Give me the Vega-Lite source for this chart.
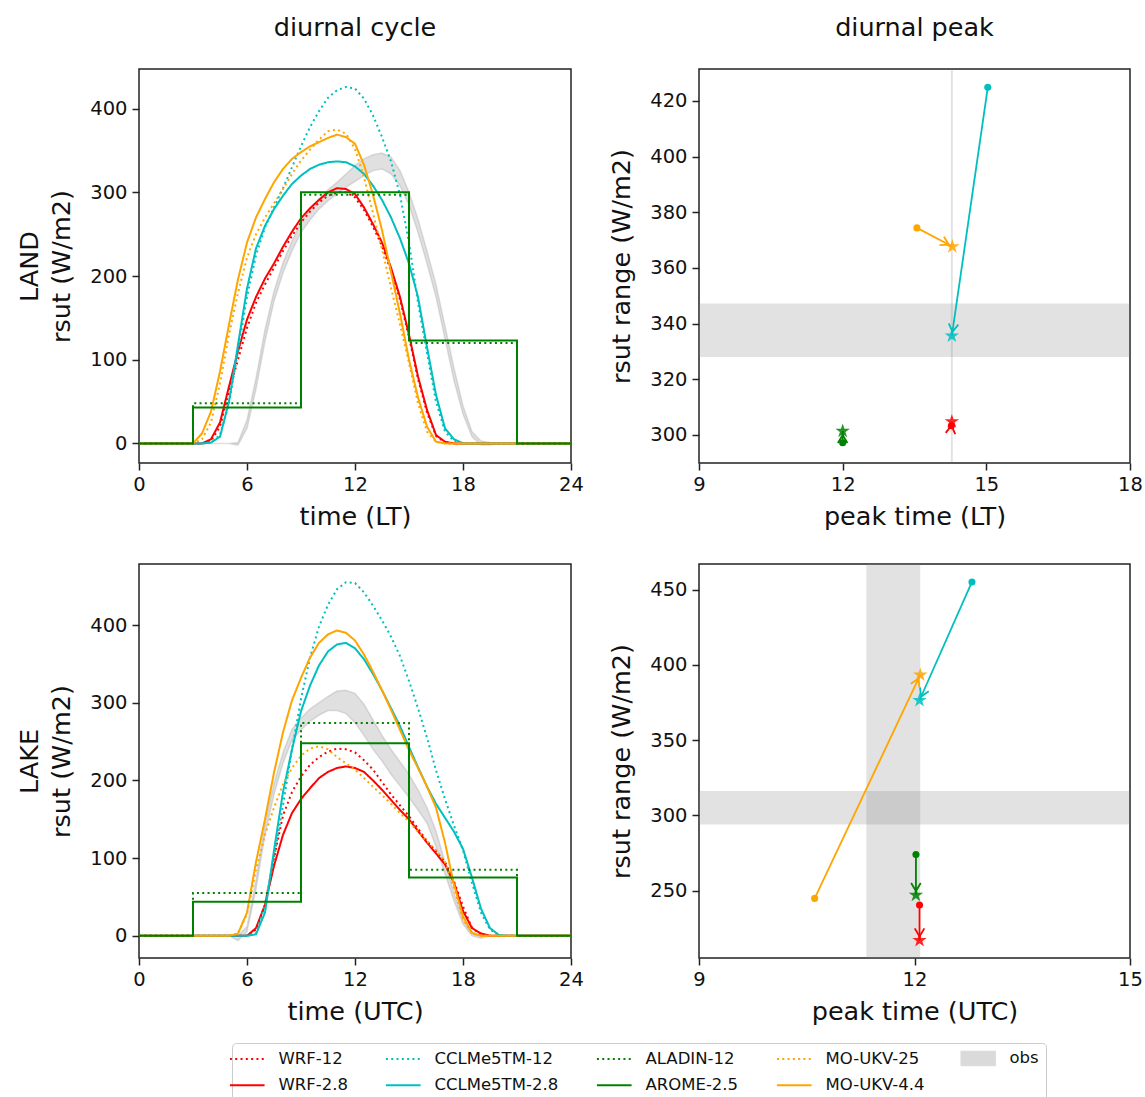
{
"$schema": "https://vega.github.io/schema/vega-lite/v6.json",
"padding": {"left": 17, "top": 14, "right": 5, "bottom": 5},
"spacing": 32,
"datasets": {
"cycle": [
{"r":"LAND","m":"WRF-12","t":0,"v":0},{"r":"LAND","m":"WRF-12","t":3.5,"v":0},{"r":"LAND","m":"WRF-12","t":4,"v":3},{"r":"LAND","m":"WRF-12","t":4.5,"v":20},{"r":"LAND","m":"WRF-12","t":5,"v":62},{"r":"LAND","m":"WRF-12","t":5.5,"v":100},{"r":"LAND","m":"WRF-12","t":6,"v":138},{"r":"LAND","m":"WRF-12","t":6.5,"v":168},{"r":"LAND","m":"WRF-12","t":7,"v":190},{"r":"LAND","m":"WRF-12","t":7.5,"v":210},{"r":"LAND","m":"WRF-12","t":8,"v":230},{"r":"LAND","m":"WRF-12","t":8.5,"v":248},{"r":"LAND","m":"WRF-12","t":9,"v":264},{"r":"LAND","m":"WRF-12","t":9.5,"v":277},{"r":"LAND","m":"WRF-12","t":10,"v":288},{"r":"LAND","m":"WRF-12","t":10.5,"v":296},{"r":"LAND","m":"WRF-12","t":11,"v":300},{"r":"LAND","m":"WRF-12","t":11.5,"v":300},{"r":"LAND","m":"WRF-12","t":12,"v":294},{"r":"LAND","m":"WRF-12","t":12.5,"v":279},{"r":"LAND","m":"WRF-12","t":13,"v":259},{"r":"LAND","m":"WRF-12","t":13.5,"v":236},{"r":"LAND","m":"WRF-12","t":14,"v":206},{"r":"LAND","m":"WRF-12","t":14.5,"v":172},{"r":"LAND","m":"WRF-12","t":15,"v":127},{"r":"LAND","m":"WRF-12","t":15.5,"v":77},{"r":"LAND","m":"WRF-12","t":16,"v":37},{"r":"LAND","m":"WRF-12","t":16.5,"v":9},{"r":"LAND","m":"WRF-12","t":17,"v":1},{"r":"LAND","m":"WRF-12","t":17.5,"v":0},{"r":"LAND","m":"WRF-12","t":24,"v":0},
{"r":"LAND","m":"WRF-2.8","t":0,"v":0},{"r":"LAND","m":"WRF-2.8","t":3.5,"v":0},{"r":"LAND","m":"WRF-2.8","t":4,"v":5},{"r":"LAND","m":"WRF-2.8","t":4.5,"v":25},{"r":"LAND","m":"WRF-2.8","t":5,"v":68},{"r":"LAND","m":"WRF-2.8","t":5.5,"v":110},{"r":"LAND","m":"WRF-2.8","t":6,"v":148},{"r":"LAND","m":"WRF-2.8","t":6.5,"v":175},{"r":"LAND","m":"WRF-2.8","t":7,"v":197},{"r":"LAND","m":"WRF-2.8","t":7.5,"v":215},{"r":"LAND","m":"WRF-2.8","t":8,"v":235},{"r":"LAND","m":"WRF-2.8","t":8.5,"v":253},{"r":"LAND","m":"WRF-2.8","t":9,"v":269},{"r":"LAND","m":"WRF-2.8","t":9.5,"v":281},{"r":"LAND","m":"WRF-2.8","t":10,"v":291},{"r":"LAND","m":"WRF-2.8","t":10.5,"v":300},{"r":"LAND","m":"WRF-2.8","t":11,"v":305},{"r":"LAND","m":"WRF-2.8","t":11.5,"v":304},{"r":"LAND","m":"WRF-2.8","t":12,"v":298},{"r":"LAND","m":"WRF-2.8","t":12.5,"v":282},{"r":"LAND","m":"WRF-2.8","t":13,"v":262},{"r":"LAND","m":"WRF-2.8","t":13.5,"v":240},{"r":"LAND","m":"WRF-2.8","t":14,"v":210},{"r":"LAND","m":"WRF-2.8","t":14.5,"v":175},{"r":"LAND","m":"WRF-2.8","t":15,"v":130},{"r":"LAND","m":"WRF-2.8","t":15.5,"v":80},{"r":"LAND","m":"WRF-2.8","t":16,"v":40},{"r":"LAND","m":"WRF-2.8","t":16.5,"v":10},{"r":"LAND","m":"WRF-2.8","t":17,"v":2},{"r":"LAND","m":"WRF-2.8","t":17.5,"v":0},{"r":"LAND","m":"WRF-2.8","t":24,"v":0},
{"r":"LAND","m":"CCLMe5TM-12","t":0,"v":0},{"r":"LAND","m":"CCLMe5TM-12","t":3.5,"v":0},{"r":"LAND","m":"CCLMe5TM-12","t":4,"v":1},{"r":"LAND","m":"CCLMe5TM-12","t":4.5,"v":10},{"r":"LAND","m":"CCLMe5TM-12","t":5,"v":48},{"r":"LAND","m":"CCLMe5TM-12","t":5.5,"v":110},{"r":"LAND","m":"CCLMe5TM-12","t":6,"v":175},{"r":"LAND","m":"CCLMe5TM-12","t":6.5,"v":225},{"r":"LAND","m":"CCLMe5TM-12","t":7,"v":258},{"r":"LAND","m":"CCLMe5TM-12","t":7.5,"v":282},{"r":"LAND","m":"CCLMe5TM-12","t":8,"v":305},{"r":"LAND","m":"CCLMe5TM-12","t":8.5,"v":330},{"r":"LAND","m":"CCLMe5TM-12","t":9,"v":355},{"r":"LAND","m":"CCLMe5TM-12","t":9.5,"v":378},{"r":"LAND","m":"CCLMe5TM-12","t":10,"v":397},{"r":"LAND","m":"CCLMe5TM-12","t":10.5,"v":413},{"r":"LAND","m":"CCLMe5TM-12","t":11,"v":422},{"r":"LAND","m":"CCLMe5TM-12","t":11.5,"v":426},{"r":"LAND","m":"CCLMe5TM-12","t":12,"v":424},{"r":"LAND","m":"CCLMe5TM-12","t":12.5,"v":412},{"r":"LAND","m":"CCLMe5TM-12","t":13,"v":392},{"r":"LAND","m":"CCLMe5TM-12","t":13.5,"v":366},{"r":"LAND","m":"CCLMe5TM-12","t":14,"v":337},{"r":"LAND","m":"CCLMe5TM-12","t":14.5,"v":297},{"r":"LAND","m":"CCLMe5TM-12","t":15,"v":240},{"r":"LAND","m":"CCLMe5TM-12","t":15.5,"v":168},{"r":"LAND","m":"CCLMe5TM-12","t":16,"v":108},{"r":"LAND","m":"CCLMe5TM-12","t":16.5,"v":50},{"r":"LAND","m":"CCLMe5TM-12","t":17,"v":14},{"r":"LAND","m":"CCLMe5TM-12","t":17.5,"v":3},{"r":"LAND","m":"CCLMe5TM-12","t":18,"v":0},{"r":"LAND","m":"CCLMe5TM-12","t":24,"v":0},
{"r":"LAND","m":"CCLMe5TM-2.8","t":0,"v":0},{"r":"LAND","m":"CCLMe5TM-2.8","t":3.5,"v":0},{"r":"LAND","m":"CCLMe5TM-2.8","t":4,"v":1},{"r":"LAND","m":"CCLMe5TM-2.8","t":4.5,"v":8},{"r":"LAND","m":"CCLMe5TM-2.8","t":5,"v":50},{"r":"LAND","m":"CCLMe5TM-2.8","t":5.5,"v":118},{"r":"LAND","m":"CCLMe5TM-2.8","t":6,"v":185},{"r":"LAND","m":"CCLMe5TM-2.8","t":6.5,"v":233},{"r":"LAND","m":"CCLMe5TM-2.8","t":7,"v":260},{"r":"LAND","m":"CCLMe5TM-2.8","t":7.5,"v":280},{"r":"LAND","m":"CCLMe5TM-2.8","t":8,"v":296},{"r":"LAND","m":"CCLMe5TM-2.8","t":8.5,"v":310},{"r":"LAND","m":"CCLMe5TM-2.8","t":9,"v":320},{"r":"LAND","m":"CCLMe5TM-2.8","t":9.5,"v":328},{"r":"LAND","m":"CCLMe5TM-2.8","t":10,"v":333},{"r":"LAND","m":"CCLMe5TM-2.8","t":10.5,"v":336},{"r":"LAND","m":"CCLMe5TM-2.8","t":11,"v":337},{"r":"LAND","m":"CCLMe5TM-2.8","t":11.5,"v":336},{"r":"LAND","m":"CCLMe5TM-2.8","t":12,"v":331},{"r":"LAND","m":"CCLMe5TM-2.8","t":12.5,"v":322},{"r":"LAND","m":"CCLMe5TM-2.8","t":13,"v":308},{"r":"LAND","m":"CCLMe5TM-2.8","t":13.5,"v":291},{"r":"LAND","m":"CCLMe5TM-2.8","t":14,"v":270},{"r":"LAND","m":"CCLMe5TM-2.8","t":14.5,"v":245},{"r":"LAND","m":"CCLMe5TM-2.8","t":15,"v":215},{"r":"LAND","m":"CCLMe5TM-2.8","t":15.5,"v":175},{"r":"LAND","m":"CCLMe5TM-2.8","t":16,"v":115},{"r":"LAND","m":"CCLMe5TM-2.8","t":16.5,"v":58},{"r":"LAND","m":"CCLMe5TM-2.8","t":17,"v":18},{"r":"LAND","m":"CCLMe5TM-2.8","t":17.5,"v":5},{"r":"LAND","m":"CCLMe5TM-2.8","t":18,"v":0},{"r":"LAND","m":"CCLMe5TM-2.8","t":24,"v":0},
{"r":"LAND","m":"MO-UKV-25","t":0,"v":0},{"r":"LAND","m":"MO-UKV-25","t":3,"v":0},{"r":"LAND","m":"MO-UKV-25","t":3.5,"v":5},{"r":"LAND","m":"MO-UKV-25","t":4,"v":25},{"r":"LAND","m":"MO-UKV-25","t":4.5,"v":72},{"r":"LAND","m":"MO-UKV-25","t":5,"v":130},{"r":"LAND","m":"MO-UKV-25","t":5.5,"v":180},{"r":"LAND","m":"MO-UKV-25","t":6,"v":222},{"r":"LAND","m":"MO-UKV-25","t":6.5,"v":250},{"r":"LAND","m":"MO-UKV-25","t":7,"v":270},{"r":"LAND","m":"MO-UKV-25","t":7.5,"v":287},{"r":"LAND","m":"MO-UKV-25","t":8,"v":304},{"r":"LAND","m":"MO-UKV-25","t":8.5,"v":322},{"r":"LAND","m":"MO-UKV-25","t":9,"v":338},{"r":"LAND","m":"MO-UKV-25","t":9.5,"v":351},{"r":"LAND","m":"MO-UKV-25","t":10,"v":363},{"r":"LAND","m":"MO-UKV-25","t":10.5,"v":373},{"r":"LAND","m":"MO-UKV-25","t":11,"v":375},{"r":"LAND","m":"MO-UKV-25","t":11.5,"v":370},{"r":"LAND","m":"MO-UKV-25","t":12,"v":352},{"r":"LAND","m":"MO-UKV-25","t":12.5,"v":318},{"r":"LAND","m":"MO-UKV-25","t":13,"v":275},{"r":"LAND","m":"MO-UKV-25","t":13.5,"v":232},{"r":"LAND","m":"MO-UKV-25","t":14,"v":186},{"r":"LAND","m":"MO-UKV-25","t":14.5,"v":142},{"r":"LAND","m":"MO-UKV-25","t":15,"v":96},{"r":"LAND","m":"MO-UKV-25","t":15.5,"v":48},{"r":"LAND","m":"MO-UKV-25","t":16,"v":14},{"r":"LAND","m":"MO-UKV-25","t":16.5,"v":2},{"r":"LAND","m":"MO-UKV-25","t":17,"v":0},{"r":"LAND","m":"MO-UKV-25","t":24,"v":0},
{"r":"LAND","m":"MO-UKV-4.4","t":0,"v":0},{"r":"LAND","m":"MO-UKV-4.4","t":3,"v":0},{"r":"LAND","m":"MO-UKV-4.4","t":3.5,"v":12},{"r":"LAND","m":"MO-UKV-4.4","t":4,"v":38},{"r":"LAND","m":"MO-UKV-4.4","t":4.5,"v":86},{"r":"LAND","m":"MO-UKV-4.4","t":5,"v":142},{"r":"LAND","m":"MO-UKV-4.4","t":5.5,"v":196},{"r":"LAND","m":"MO-UKV-4.4","t":6,"v":240},{"r":"LAND","m":"MO-UKV-4.4","t":6.5,"v":270},{"r":"LAND","m":"MO-UKV-4.4","t":7,"v":292},{"r":"LAND","m":"MO-UKV-4.4","t":7.5,"v":312},{"r":"LAND","m":"MO-UKV-4.4","t":8,"v":328},{"r":"LAND","m":"MO-UKV-4.4","t":8.5,"v":340},{"r":"LAND","m":"MO-UKV-4.4","t":9,"v":348},{"r":"LAND","m":"MO-UKV-4.4","t":9.5,"v":355},{"r":"LAND","m":"MO-UKV-4.4","t":10,"v":360},{"r":"LAND","m":"MO-UKV-4.4","t":10.5,"v":365},{"r":"LAND","m":"MO-UKV-4.4","t":11,"v":369},{"r":"LAND","m":"MO-UKV-4.4","t":11.5,"v":366},{"r":"LAND","m":"MO-UKV-4.4","t":12,"v":358},{"r":"LAND","m":"MO-UKV-4.4","t":12.5,"v":333},{"r":"LAND","m":"MO-UKV-4.4","t":13,"v":297},{"r":"LAND","m":"MO-UKV-4.4","t":13.5,"v":255},{"r":"LAND","m":"MO-UKV-4.4","t":14,"v":205},{"r":"LAND","m":"MO-UKV-4.4","t":14.5,"v":155},{"r":"LAND","m":"MO-UKV-4.4","t":15,"v":100},{"r":"LAND","m":"MO-UKV-4.4","t":15.5,"v":55},{"r":"LAND","m":"MO-UKV-4.4","t":16,"v":20},{"r":"LAND","m":"MO-UKV-4.4","t":16.5,"v":2},{"r":"LAND","m":"MO-UKV-4.4","t":17,"v":0},{"r":"LAND","m":"MO-UKV-4.4","t":24,"v":0},
{"r":"LAKE","m":"WRF-12","t":0,"v":0},{"r":"LAKE","m":"WRF-12","t":6,"v":0},{"r":"LAKE","m":"WRF-12","t":6.5,"v":8},{"r":"LAKE","m":"WRF-12","t":7,"v":40},{"r":"LAKE","m":"WRF-12","t":7.5,"v":100},{"r":"LAKE","m":"WRF-12","t":8,"v":155},{"r":"LAKE","m":"WRF-12","t":8.5,"v":185},{"r":"LAKE","m":"WRF-12","t":9,"v":205},{"r":"LAKE","m":"WRF-12","t":9.5,"v":220},{"r":"LAKE","m":"WRF-12","t":10,"v":230},{"r":"LAKE","m":"WRF-12","t":10.5,"v":237},{"r":"LAKE","m":"WRF-12","t":11,"v":241},{"r":"LAKE","m":"WRF-12","t":11.5,"v":240},{"r":"LAKE","m":"WRF-12","t":12,"v":236},{"r":"LAKE","m":"WRF-12","t":12.5,"v":226},{"r":"LAKE","m":"WRF-12","t":13,"v":214},{"r":"LAKE","m":"WRF-12","t":13.5,"v":198},{"r":"LAKE","m":"WRF-12","t":14,"v":182},{"r":"LAKE","m":"WRF-12","t":14.5,"v":168},{"r":"LAKE","m":"WRF-12","t":15,"v":154},{"r":"LAKE","m":"WRF-12","t":15.5,"v":138},{"r":"LAKE","m":"WRF-12","t":16,"v":122},{"r":"LAKE","m":"WRF-12","t":16.5,"v":109},{"r":"LAKE","m":"WRF-12","t":17,"v":95},{"r":"LAKE","m":"WRF-12","t":17.5,"v":70},{"r":"LAKE","m":"WRF-12","t":18,"v":38},{"r":"LAKE","m":"WRF-12","t":18.5,"v":10},{"r":"LAKE","m":"WRF-12","t":19,"v":2},{"r":"LAKE","m":"WRF-12","t":19.5,"v":0},{"r":"LAKE","m":"WRF-12","t":24,"v":0},
{"r":"LAKE","m":"WRF-2.8","t":0,"v":0},{"r":"LAKE","m":"WRF-2.8","t":6,"v":0},{"r":"LAKE","m":"WRF-2.8","t":6.5,"v":10},{"r":"LAKE","m":"WRF-2.8","t":7,"v":40},{"r":"LAKE","m":"WRF-2.8","t":7.5,"v":90},{"r":"LAKE","m":"WRF-2.8","t":8,"v":130},{"r":"LAKE","m":"WRF-2.8","t":8.5,"v":158},{"r":"LAKE","m":"WRF-2.8","t":9,"v":176},{"r":"LAKE","m":"WRF-2.8","t":9.5,"v":190},{"r":"LAKE","m":"WRF-2.8","t":10,"v":203},{"r":"LAKE","m":"WRF-2.8","t":10.5,"v":211},{"r":"LAKE","m":"WRF-2.8","t":11,"v":216},{"r":"LAKE","m":"WRF-2.8","t":11.5,"v":218},{"r":"LAKE","m":"WRF-2.8","t":12,"v":216},{"r":"LAKE","m":"WRF-2.8","t":12.5,"v":211},{"r":"LAKE","m":"WRF-2.8","t":13,"v":200},{"r":"LAKE","m":"WRF-2.8","t":13.5,"v":188},{"r":"LAKE","m":"WRF-2.8","t":14,"v":175},{"r":"LAKE","m":"WRF-2.8","t":14.5,"v":162},{"r":"LAKE","m":"WRF-2.8","t":15,"v":150},{"r":"LAKE","m":"WRF-2.8","t":15.5,"v":135},{"r":"LAKE","m":"WRF-2.8","t":16,"v":120},{"r":"LAKE","m":"WRF-2.8","t":16.5,"v":106},{"r":"LAKE","m":"WRF-2.8","t":17,"v":92},{"r":"LAKE","m":"WRF-2.8","t":17.5,"v":68},{"r":"LAKE","m":"WRF-2.8","t":18,"v":32},{"r":"LAKE","m":"WRF-2.8","t":18.5,"v":10},{"r":"LAKE","m":"WRF-2.8","t":19,"v":3},{"r":"LAKE","m":"WRF-2.8","t":19.5,"v":0},{"r":"LAKE","m":"WRF-2.8","t":24,"v":0},
{"r":"LAKE","m":"CCLMe5TM-12","t":0,"v":0},{"r":"LAKE","m":"CCLMe5TM-12","t":6,"v":0},{"r":"LAKE","m":"CCLMe5TM-12","t":6.5,"v":3},{"r":"LAKE","m":"CCLMe5TM-12","t":7,"v":40},{"r":"LAKE","m":"CCLMe5TM-12","t":7.5,"v":100},{"r":"LAKE","m":"CCLMe5TM-12","t":8,"v":168},{"r":"LAKE","m":"CCLMe5TM-12","t":8.5,"v":240},{"r":"LAKE","m":"CCLMe5TM-12","t":9,"v":305},{"r":"LAKE","m":"CCLMe5TM-12","t":9.5,"v":358},{"r":"LAKE","m":"CCLMe5TM-12","t":10,"v":398},{"r":"LAKE","m":"CCLMe5TM-12","t":10.5,"v":426},{"r":"LAKE","m":"CCLMe5TM-12","t":11,"v":446},{"r":"LAKE","m":"CCLMe5TM-12","t":11.5,"v":455},{"r":"LAKE","m":"CCLMe5TM-12","t":12,"v":454},{"r":"LAKE","m":"CCLMe5TM-12","t":12.5,"v":442},{"r":"LAKE","m":"CCLMe5TM-12","t":13,"v":425},{"r":"LAKE","m":"CCLMe5TM-12","t":13.5,"v":406},{"r":"LAKE","m":"CCLMe5TM-12","t":14,"v":385},{"r":"LAKE","m":"CCLMe5TM-12","t":14.5,"v":360},{"r":"LAKE","m":"CCLMe5TM-12","t":15,"v":328},{"r":"LAKE","m":"CCLMe5TM-12","t":15.5,"v":293},{"r":"LAKE","m":"CCLMe5TM-12","t":16,"v":255},{"r":"LAKE","m":"CCLMe5TM-12","t":16.5,"v":213},{"r":"LAKE","m":"CCLMe5TM-12","t":17,"v":176},{"r":"LAKE","m":"CCLMe5TM-12","t":17.5,"v":142},{"r":"LAKE","m":"CCLMe5TM-12","t":18,"v":110},{"r":"LAKE","m":"CCLMe5TM-12","t":18.5,"v":68},{"r":"LAKE","m":"CCLMe5TM-12","t":19,"v":30},{"r":"LAKE","m":"CCLMe5TM-12","t":19.5,"v":8},{"r":"LAKE","m":"CCLMe5TM-12","t":20,"v":1},{"r":"LAKE","m":"CCLMe5TM-12","t":20.5,"v":0},{"r":"LAKE","m":"CCLMe5TM-12","t":24,"v":0},
{"r":"LAKE","m":"CCLMe5TM-2.8","t":0,"v":0},{"r":"LAKE","m":"CCLMe5TM-2.8","t":6,"v":0},{"r":"LAKE","m":"CCLMe5TM-2.8","t":6.5,"v":2},{"r":"LAKE","m":"CCLMe5TM-2.8","t":7,"v":30},{"r":"LAKE","m":"CCLMe5TM-2.8","t":7.5,"v":110},{"r":"LAKE","m":"CCLMe5TM-2.8","t":8,"v":185},{"r":"LAKE","m":"CCLMe5TM-2.8","t":8.5,"v":240},{"r":"LAKE","m":"CCLMe5TM-2.8","t":9,"v":289},{"r":"LAKE","m":"CCLMe5TM-2.8","t":9.5,"v":322},{"r":"LAKE","m":"CCLMe5TM-2.8","t":10,"v":348},{"r":"LAKE","m":"CCLMe5TM-2.8","t":10.5,"v":366},{"r":"LAKE","m":"CCLMe5TM-2.8","t":11,"v":375},{"r":"LAKE","m":"CCLMe5TM-2.8","t":11.5,"v":377},{"r":"LAKE","m":"CCLMe5TM-2.8","t":12,"v":370},{"r":"LAKE","m":"CCLMe5TM-2.8","t":12.5,"v":356},{"r":"LAKE","m":"CCLMe5TM-2.8","t":13,"v":337},{"r":"LAKE","m":"CCLMe5TM-2.8","t":13.5,"v":316},{"r":"LAKE","m":"CCLMe5TM-2.8","t":14,"v":293},{"r":"LAKE","m":"CCLMe5TM-2.8","t":14.5,"v":270},{"r":"LAKE","m":"CCLMe5TM-2.8","t":15,"v":243},{"r":"LAKE","m":"CCLMe5TM-2.8","t":15.5,"v":217},{"r":"LAKE","m":"CCLMe5TM-2.8","t":16,"v":192},{"r":"LAKE","m":"CCLMe5TM-2.8","t":16.5,"v":170},{"r":"LAKE","m":"CCLMe5TM-2.8","t":17,"v":152},{"r":"LAKE","m":"CCLMe5TM-2.8","t":17.5,"v":134},{"r":"LAKE","m":"CCLMe5TM-2.8","t":18,"v":112},{"r":"LAKE","m":"CCLMe5TM-2.8","t":18.5,"v":75},{"r":"LAKE","m":"CCLMe5TM-2.8","t":19,"v":35},{"r":"LAKE","m":"CCLMe5TM-2.8","t":19.5,"v":10},{"r":"LAKE","m":"CCLMe5TM-2.8","t":20,"v":1},{"r":"LAKE","m":"CCLMe5TM-2.8","t":20.5,"v":0},{"r":"LAKE","m":"CCLMe5TM-2.8","t":24,"v":0},
{"r":"LAKE","m":"MO-UKV-25","t":0,"v":0},{"r":"LAKE","m":"MO-UKV-25","t":5,"v":0},{"r":"LAKE","m":"MO-UKV-25","t":5.5,"v":3},{"r":"LAKE","m":"MO-UKV-25","t":6,"v":28},{"r":"LAKE","m":"MO-UKV-25","t":6.5,"v":85},{"r":"LAKE","m":"MO-UKV-25","t":7,"v":130},{"r":"LAKE","m":"MO-UKV-25","t":7.5,"v":165},{"r":"LAKE","m":"MO-UKV-25","t":8,"v":195},{"r":"LAKE","m":"MO-UKV-25","t":8.5,"v":216},{"r":"LAKE","m":"MO-UKV-25","t":9,"v":232},{"r":"LAKE","m":"MO-UKV-25","t":9.5,"v":241},{"r":"LAKE","m":"MO-UKV-25","t":10,"v":244},{"r":"LAKE","m":"MO-UKV-25","t":10.5,"v":240},{"r":"LAKE","m":"MO-UKV-25","t":11,"v":230},{"r":"LAKE","m":"MO-UKV-25","t":11.5,"v":222},{"r":"LAKE","m":"MO-UKV-25","t":12,"v":214},{"r":"LAKE","m":"MO-UKV-25","t":12.5,"v":203},{"r":"LAKE","m":"MO-UKV-25","t":13,"v":192},{"r":"LAKE","m":"MO-UKV-25","t":13.5,"v":181},{"r":"LAKE","m":"MO-UKV-25","t":14,"v":170},{"r":"LAKE","m":"MO-UKV-25","t":14.5,"v":158},{"r":"LAKE","m":"MO-UKV-25","t":15,"v":147},{"r":"LAKE","m":"MO-UKV-25","t":15.5,"v":134},{"r":"LAKE","m":"MO-UKV-25","t":16,"v":122},{"r":"LAKE","m":"MO-UKV-25","t":16.5,"v":110},{"r":"LAKE","m":"MO-UKV-25","t":17,"v":95},{"r":"LAKE","m":"MO-UKV-25","t":17.5,"v":62},{"r":"LAKE","m":"MO-UKV-25","t":18,"v":22},{"r":"LAKE","m":"MO-UKV-25","t":18.5,"v":3},{"r":"LAKE","m":"MO-UKV-25","t":19,"v":0},{"r":"LAKE","m":"MO-UKV-25","t":24,"v":0},
{"r":"LAKE","m":"MO-UKV-4.4","t":0,"v":0},{"r":"LAKE","m":"MO-UKV-4.4","t":5,"v":0},{"r":"LAKE","m":"MO-UKV-4.4","t":5.5,"v":3},{"r":"LAKE","m":"MO-UKV-4.4","t":6,"v":30},{"r":"LAKE","m":"MO-UKV-4.4","t":6.5,"v":95},{"r":"LAKE","m":"MO-UKV-4.4","t":7,"v":150},{"r":"LAKE","m":"MO-UKV-4.4","t":7.5,"v":210},{"r":"LAKE","m":"MO-UKV-4.4","t":8,"v":262},{"r":"LAKE","m":"MO-UKV-4.4","t":8.5,"v":303},{"r":"LAKE","m":"MO-UKV-4.4","t":9,"v":332},{"r":"LAKE","m":"MO-UKV-4.4","t":9.5,"v":358},{"r":"LAKE","m":"MO-UKV-4.4","t":10,"v":377},{"r":"LAKE","m":"MO-UKV-4.4","t":10.5,"v":388},{"r":"LAKE","m":"MO-UKV-4.4","t":11,"v":393},{"r":"LAKE","m":"MO-UKV-4.4","t":11.5,"v":390},{"r":"LAKE","m":"MO-UKV-4.4","t":12,"v":380},{"r":"LAKE","m":"MO-UKV-4.4","t":12.5,"v":362},{"r":"LAKE","m":"MO-UKV-4.4","t":13,"v":340},{"r":"LAKE","m":"MO-UKV-4.4","t":13.5,"v":316},{"r":"LAKE","m":"MO-UKV-4.4","t":14,"v":291},{"r":"LAKE","m":"MO-UKV-4.4","t":14.5,"v":265},{"r":"LAKE","m":"MO-UKV-4.4","t":15,"v":239},{"r":"LAKE","m":"MO-UKV-4.4","t":15.5,"v":216},{"r":"LAKE","m":"MO-UKV-4.4","t":16,"v":192},{"r":"LAKE","m":"MO-UKV-4.4","t":16.5,"v":165},{"r":"LAKE","m":"MO-UKV-4.4","t":17,"v":120},{"r":"LAKE","m":"MO-UKV-4.4","t":17.5,"v":66},{"r":"LAKE","m":"MO-UKV-4.4","t":18,"v":25},{"r":"LAKE","m":"MO-UKV-4.4","t":18.5,"v":4},{"r":"LAKE","m":"MO-UKV-4.4","t":19,"v":0},{"r":"LAKE","m":"MO-UKV-4.4","t":24,"v":0}
],
"steps": [
{"r":"LAND","m":"ALADIN-12","t":0,"v":0},{"r":"LAND","m":"ALADIN-12","t":3,"v":48},{"r":"LAND","m":"ALADIN-12","t":9,"v":297},{"r":"LAND","m":"ALADIN-12","t":15,"v":120},{"r":"LAND","m":"ALADIN-12","t":21,"v":0},{"r":"LAND","m":"ALADIN-12","t":24,"v":0},
{"r":"LAND","m":"AROME-2.5","t":0,"v":0},{"r":"LAND","m":"AROME-2.5","t":3,"v":43},{"r":"LAND","m":"AROME-2.5","t":9,"v":300},{"r":"LAND","m":"AROME-2.5","t":15,"v":123},{"r":"LAND","m":"AROME-2.5","t":21,"v":0},{"r":"LAND","m":"AROME-2.5","t":24,"v":0},
{"r":"LAKE","m":"ALADIN-12","t":0,"v":0},{"r":"LAKE","m":"ALADIN-12","t":3,"v":55},{"r":"LAKE","m":"ALADIN-12","t":9,"v":274},{"r":"LAKE","m":"ALADIN-12","t":15,"v":85},{"r":"LAKE","m":"ALADIN-12","t":21,"v":0},{"r":"LAKE","m":"ALADIN-12","t":24,"v":0},
{"r":"LAKE","m":"AROME-2.5","t":0,"v":0},{"r":"LAKE","m":"AROME-2.5","t":3,"v":44},{"r":"LAKE","m":"AROME-2.5","t":9,"v":248},{"r":"LAKE","m":"AROME-2.5","t":15,"v":75},{"r":"LAKE","m":"AROME-2.5","t":21,"v":0},{"r":"LAKE","m":"AROME-2.5","t":24,"v":0}
],
"obs": [
{"r":"LAND","t":0,"lo":0,"hi":0},{"r":"LAND","t":5,"lo":0,"hi":0},{"r":"LAND","t":5.5,"lo":-2,"hi":1},{"r":"LAND","t":6,"lo":18,"hi":28},{"r":"LAND","t":6.5,"lo":65,"hi":78},{"r":"LAND","t":7,"lo":122,"hi":136},{"r":"LAND","t":7.5,"lo":170,"hi":182},{"r":"LAND","t":8,"lo":204,"hi":216},{"r":"LAND","t":8.5,"lo":230,"hi":242},{"r":"LAND","t":9,"lo":252,"hi":264},{"r":"LAND","t":9.5,"lo":267,"hi":280},{"r":"LAND","t":10,"lo":280,"hi":292},{"r":"LAND","t":10.5,"lo":290,"hi":303},{"r":"LAND","t":11,"lo":298,"hi":312},{"r":"LAND","t":11.5,"lo":306,"hi":322},{"r":"LAND","t":12,"lo":313,"hi":332},{"r":"LAND","t":12.5,"lo":320,"hi":340},{"r":"LAND","t":13,"lo":326,"hi":345},{"r":"LAND","t":13.5,"lo":328,"hi":347},{"r":"LAND","t":14,"lo":322,"hi":342},{"r":"LAND","t":14.5,"lo":308,"hi":326},{"r":"LAND","t":15,"lo":285,"hi":300},{"r":"LAND","t":15.5,"lo":252,"hi":268},{"r":"LAND","t":16,"lo":215,"hi":230},{"r":"LAND","t":16.5,"lo":175,"hi":190},{"r":"LAND","t":17,"lo":125,"hi":140},{"r":"LAND","t":17.5,"lo":75,"hi":90},{"r":"LAND","t":18,"lo":35,"hi":45},{"r":"LAND","t":18.5,"lo":8,"hi":14},{"r":"LAND","t":19,"lo":-2,"hi":3},{"r":"LAND","t":19.5,"lo":-2,"hi":1},{"r":"LAND","t":20,"lo":0,"hi":0},{"r":"LAND","t":24,"lo":0,"hi":0},
{"r":"LAKE","t":0,"lo":0,"hi":0},{"r":"LAKE","t":5,"lo":0,"hi":0},{"r":"LAKE","t":5.5,"lo":-6,"hi":0},{"r":"LAKE","t":6,"lo":5,"hi":12},{"r":"LAKE","t":6.5,"lo":60,"hi":72},{"r":"LAKE","t":7,"lo":130,"hi":145},{"r":"LAKE","t":7.5,"lo":182,"hi":196},{"r":"LAKE","t":8,"lo":222,"hi":236},{"r":"LAKE","t":8.5,"lo":252,"hi":266},{"r":"LAKE","t":9,"lo":265,"hi":280},{"r":"LAKE","t":9.5,"lo":276,"hi":292},{"r":"LAKE","t":10,"lo":284,"hi":300},{"r":"LAKE","t":10.5,"lo":290,"hi":308},{"r":"LAKE","t":11,"lo":290,"hi":315},{"r":"LAKE","t":11.5,"lo":286,"hi":316},{"r":"LAKE","t":12,"lo":274,"hi":312},{"r":"LAKE","t":12.5,"lo":258,"hi":298},{"r":"LAKE","t":13,"lo":240,"hi":278},{"r":"LAKE","t":13.5,"lo":225,"hi":258},{"r":"LAKE","t":14,"lo":208,"hi":240},{"r":"LAKE","t":14.5,"lo":193,"hi":224},{"r":"LAKE","t":15,"lo":178,"hi":208},{"r":"LAKE","t":15.5,"lo":162,"hi":188},{"r":"LAKE","t":16,"lo":145,"hi":165},{"r":"LAKE","t":16.5,"lo":115,"hi":135},{"r":"LAKE","t":17,"lo":80,"hi":95},{"r":"LAKE","t":17.5,"lo":45,"hi":55},{"r":"LAKE","t":18,"lo":15,"hi":20},{"r":"LAKE","t":18.5,"lo":0,"hi":3},{"r":"LAKE","t":19,"lo":-3,"hi":0},{"r":"LAKE","t":19.5,"lo":0,"hi":0},{"r":"LAKE","t":24,"lo":0,"hi":0}
],
"peaks": [
{"r":"LAND","m12":"WRF-12","mhi":"WRF-2.8","t12":14.27,"r12":303.3,"thi":14.28,"rhi":304.8},
{"r":"LAND","m12":"CCLMe5TM-12","mhi":"CCLMe5TM-2.8","t12":15.03,"r12":424.9,"thi":14.28,"rhi":335.6},
{"r":"LAND","m12":"ALADIN-12","mhi":"AROME-2.5","t12":12.0,"r12":297.2,"thi":12.0,"rhi":301.4},
{"r":"LAND","m12":"MO-UKV-25","mhi":"MO-UKV-4.4","t12":13.55,"r12":374.4,"thi":14.29,"rhi":367.7},
{"r":"LAKE","m12":"WRF-12","mhi":"WRF-2.8","t12":12.07,"r12":240.5,"thi":12.07,"rhi":217},
{"r":"LAKE","m12":"CCLMe5TM-12","mhi":"CCLMe5TM-2.8","t12":12.8,"r12":455.1,"thi":12.07,"rhi":376.5},
{"r":"LAKE","m12":"ALADIN-12","mhi":"AROME-2.5","t12":12.02,"r12":274.1,"thi":12.02,"rhi":247.1},
{"r":"LAKE","m12":"MO-UKV-25","mhi":"MO-UKV-4.4","t12":10.61,"r12":244.9,"thi":12.08,"rhi":393.3}
],
"obsPeak": [
{"r":"LAND","t1":14.26,"t2":14.3,"v1":328,"v2":347.2},
{"r":"LAKE","t1":11.33,"t2":12.08,"v1":294,"v2":316.2}
]
},
"vconcat": [
{"spacing": 24, "hconcat": [
{
"width": 432, "height": 394,
"title": {"text": "diurnal cycle"},
"layer": [
{"data": {"name": "obs"}, "transform": [{"filter": "datum.r === 'LAND'"}],
 "mark": {"type": "area", "fill": "#999999", "fillOpacity": 0.3, "stroke": "#999999", "strokeOpacity": 0.3, "strokeWidth": 1.5},
 "encoding": {
  "x": {"field": "t", "type": "quantitative", "scale": {"domain": [0, 24], "nice": false, "zero": false}, "axis": {"values": [0, 6, 12, 18, 24], "format": "d", "title": "time (LT)", "labelFlush": false}},
  "y": {"field": "lo", "type": "quantitative", "scale": {"domain": [-23.4, 447.4], "nice": false, "zero": false}, "axis": {"values": [0, 100, 200, 300, 400], "format": "d", "title": ["LAND", "rsut (W/m2)"], "titlePadding": 15}},
  "y2": {"field": "hi"}}},
{"data": {"name": "cycle"}, "transform": [{"filter": "datum.r === 'LAND'"}],
 "mark": {"type": "line", "strokeWidth": 2},
 "encoding": {
  "x": {"field": "t", "type": "quantitative"},
  "y": {"field": "v", "type": "quantitative"},
  "color": {"field": "m", "type": "nominal",
   "scale": {"domain": ["WRF-12","CCLMe5TM-12","ALADIN-12","MO-UKV-25","obs","WRF-2.8","CCLMe5TM-2.8","AROME-2.5","MO-UKV-4.4"], "range": ["#ff0000","#00bfbf","#008000","#ffa500","#dadada","#ff0000","#00bfbf","#008000","#ffa500"]},
   "legend": {"title": null, "orient": "none", "legendX": 93, "legendY": 974, "columns": 5, "direction": "horizontal", "symbolType": "stroke", "symbolSize": 1200, "symbolStrokeWidth": 2, "labelFontSize": 16.5, "labelOffset": 23, "labelLimit": 400, "columnPadding": 33, "rowPadding": 9, "padding": 7, "strokeColor": "#cccccc", "fillColor": "#ffffff", "cornerRadius": 4,
    "encode": {"symbols": {"update": {"shape": {"signal": "datum.value === 'obs' ? 'M-1,-0.42H1V0.42H-1Z' : 'stroke'"}, "fill": {"signal": "datum.value === 'obs' ? '#dadada' : 'transparent'"}, "strokeWidth": {"signal": "datum.value === 'obs' ? 1 : 2"}}}}}},
  "strokeDash": {"field": "m", "type": "nominal",
   "scale": {"domain": ["WRF-12","CCLMe5TM-12","ALADIN-12","MO-UKV-25","obs","WRF-2.8","CCLMe5TM-2.8","AROME-2.5","MO-UKV-4.4"], "range": [[2,3.3],[2,3.3],[2,3.3],[2,3.3],[1,0],[1,0],[1,0],[1,0],[1,0]]},
   "legend": {"title": null, "orient": "none", "legendX": 93, "legendY": 974, "columns": 5, "direction": "horizontal", "symbolType": "stroke", "symbolSize": 1200, "symbolStrokeWidth": 2, "labelFontSize": 16.5, "labelOffset": 23, "labelLimit": 400, "columnPadding": 33, "rowPadding": 9, "padding": 7, "strokeColor": "#cccccc", "fillColor": "#ffffff", "cornerRadius": 4}}}},
{"data": {"name": "steps"}, "transform": [{"filter": "datum.r === 'LAND'"}],
 "mark": {"type": "line", "strokeWidth": 2, "interpolate": "step-after"},
 "encoding": {
  "x": {"field": "t", "type": "quantitative"},
  "y": {"field": "v", "type": "quantitative"},
  "color": {"field": "m", "type": "nominal", "legend": null},
  "strokeDash": {"field": "m", "type": "nominal", "legend": null}}}
]
},
{
"width": 431, "height": 394,
"title": {"text": "diurnal peak"},
"layer": [
{"data": {"name": "obsPeak"}, "transform": [{"filter": "datum.r === 'LAND'"}],
 "mark": {"type": "rect", "fill": "#808080", "opacity": 0.23},
 "encoding": {
  "x": {"field": "t1", "type": "quantitative", "scale": {"domain": [9, 18], "nice": false, "zero": false}, "axis": {"values": [9, 12, 15, 18], "format": "d", "title": "peak time (LT)", "labelFlush": false}},
  "x2": {"field": "t2"},
  "y": {"datum": 289.9, "type": "quantitative", "scale": {"domain": [289.9, 431.5], "nice": false, "zero": false}, "axis": {"values": [300, 320, 340, 360, 380, 400, 420], "format": "d", "title": "rsut range (W/m2)", "titlePadding": 15}},
  "y2": {"datum": 431.5}}},
{"data": {"name": "obsPeak"}, "transform": [{"filter": "datum.r === 'LAND'"}],
 "mark": {"type": "rect", "fill": "#808080", "opacity": 0.23},
 "encoding": {
  "x": {"datum": 9, "type": "quantitative"},
  "x2": {"datum": 18},
  "y": {"field": "v1", "type": "quantitative"},
  "y2": {"field": "v2"}}},
{"data": {"name": "peaks"}, "transform": [{"filter": "datum.r === 'LAND'"}],
 "mark": {"type": "rule", "strokeWidth": 1.8},
 "encoding": {"x": {"field": "t12", "type": "quantitative"}, "y": {"field": "r12", "type": "quantitative"}, "x2": {"field": "thi"}, "y2": {"field": "rhi"}, "color": {"field": "m12", "type": "nominal", "legend": null}}},
{"data": {"name": "peaks"}, "transform": [{"filter": "datum.r === 'LAND'"}],
 "mark": {"type": "point", "shape": "circle", "filled": true, "size": 50, "opacity": 1},
 "encoding": {"x": {"field": "t12", "type": "quantitative"}, "y": {"field": "r12", "type": "quantitative"}, "color": {"field": "m12", "type": "nominal", "legend": null}}},
{"data": {"name": "peaks"}, "transform": [{"filter": "datum.r === 'LAND'"}],
 "mark": {"type": "point", "shape": "M0,-1L0.2245,-0.309L0.9511,-0.309L0.3633,0.118L0.5878,0.809L0,0.382L-0.5878,0.809L-0.3633,0.118L-0.9511,-0.309L-0.2245,-0.309Z", "filled": true, "size": 230, "opacity": 0.85},
 "encoding": {"x": {"field": "thi", "type": "quantitative"}, "y": {"field": "rhi", "type": "quantitative"}, "color": {"field": "mhi", "type": "nominal", "legend": null}}},
{"data": {"name": "peaks"}, "transform": [{"filter": "datum.r === 'LAND'"}, {"calculate": "atan2((datum.thi-datum.t12)*47.89,(datum.rhi-datum.r12)*2.783)*180/PI", "as": "ang"}],
 "mark": {"type": "point", "shape": "M-0.6,1.5L0,0.5L0.6,1.5", "filled": false, "size": 256, "strokeWidth": 1.8, "opacity": 1},
 "encoding": {"x": {"field": "thi", "type": "quantitative"}, "y": {"field": "rhi", "type": "quantitative"}, "angle": {"field": "ang", "type": "quantitative", "scale": null}, "color": {"field": "m12", "type": "nominal", "legend": null}}}
]
}
]},
{"spacing": 24, "hconcat": [
{
"width": 432, "height": 394,
"layer": [
{"data": {"name": "obs"}, "transform": [{"filter": "datum.r === 'LAKE'"}],
 "mark": {"type": "area", "fill": "#999999", "fillOpacity": 0.3, "stroke": "#999999", "strokeOpacity": 0.3, "strokeWidth": 1.5},
 "encoding": {
  "x": {"field": "t", "type": "quantitative", "scale": {"domain": [0, 24], "nice": false, "zero": false}, "axis": {"values": [0, 6, 12, 18, 24], "format": "d", "title": "time (UTC)", "labelFlush": false}},
  "y": {"field": "lo", "type": "quantitative", "scale": {"domain": [-28.5, 478.5], "nice": false, "zero": false}, "axis": {"values": [0, 100, 200, 300, 400], "format": "d", "title": ["LAKE", "rsut (W/m2)"], "titlePadding": 15}},
  "y2": {"field": "hi"}}},
{"data": {"name": "cycle"}, "transform": [{"filter": "datum.r === 'LAKE'"}],
 "mark": {"type": "line", "strokeWidth": 2},
 "encoding": {
  "x": {"field": "t", "type": "quantitative"},
  "y": {"field": "v", "type": "quantitative"},
  "color": {"field": "m", "type": "nominal", "legend": null},
  "strokeDash": {"field": "m", "type": "nominal", "legend": null}}},
{"data": {"name": "steps"}, "transform": [{"filter": "datum.r === 'LAKE'"}],
 "mark": {"type": "line", "strokeWidth": 2, "interpolate": "step-after"},
 "encoding": {
  "x": {"field": "t", "type": "quantitative"},
  "y": {"field": "v", "type": "quantitative"},
  "color": {"field": "m", "type": "nominal", "legend": null},
  "strokeDash": {"field": "m", "type": "nominal", "legend": null}}}
]
},
{
"width": 431, "height": 394,
"layer": [
{"data": {"name": "obsPeak"}, "transform": [{"filter": "datum.r === 'LAKE'"}],
 "mark": {"type": "rect", "fill": "#808080", "opacity": 0.23},
 "encoding": {
  "x": {"field": "t1", "type": "quantitative", "scale": {"domain": [9, 15], "nice": false, "zero": false}, "axis": {"values": [9, 12, 15], "format": "d", "title": "peak time (UTC)", "labelFlush": false}},
  "x2": {"field": "t2"},
  "y": {"datum": 205.3, "type": "quantitative", "scale": {"domain": [205.3, 467.0], "nice": false, "zero": false}, "axis": {"values": [250, 300, 350, 400, 450], "format": "d", "title": "rsut range (W/m2)", "titlePadding": 15}},
  "y2": {"datum": 467.0}}},
{"data": {"name": "obsPeak"}, "transform": [{"filter": "datum.r === 'LAKE'"}],
 "mark": {"type": "rect", "fill": "#808080", "opacity": 0.23},
 "encoding": {
  "x": {"datum": 9, "type": "quantitative"},
  "x2": {"datum": 15},
  "y": {"field": "v1", "type": "quantitative"},
  "y2": {"field": "v2"}}},
{"data": {"name": "peaks"}, "transform": [{"filter": "datum.r === 'LAKE'"}],
 "mark": {"type": "rule", "strokeWidth": 1.8},
 "encoding": {"x": {"field": "t12", "type": "quantitative"}, "y": {"field": "r12", "type": "quantitative"}, "x2": {"field": "thi"}, "y2": {"field": "rhi"}, "color": {"field": "m12", "type": "nominal", "legend": null}}},
{"data": {"name": "peaks"}, "transform": [{"filter": "datum.r === 'LAKE'"}],
 "mark": {"type": "point", "shape": "circle", "filled": true, "size": 50, "opacity": 1},
 "encoding": {"x": {"field": "t12", "type": "quantitative"}, "y": {"field": "r12", "type": "quantitative"}, "color": {"field": "m12", "type": "nominal", "legend": null}}},
{"data": {"name": "peaks"}, "transform": [{"filter": "datum.r === 'LAKE'"}],
 "mark": {"type": "point", "shape": "M0,-1L0.2245,-0.309L0.9511,-0.309L0.3633,0.118L0.5878,0.809L0,0.382L-0.5878,0.809L-0.3633,0.118L-0.9511,-0.309L-0.2245,-0.309Z", "filled": true, "size": 230, "opacity": 0.85},
 "encoding": {"x": {"field": "thi", "type": "quantitative"}, "y": {"field": "rhi", "type": "quantitative"}, "color": {"field": "mhi", "type": "nominal", "legend": null}}},
{"data": {"name": "peaks"}, "transform": [{"filter": "datum.r === 'LAKE'"}, {"calculate": "atan2((datum.thi-datum.t12)*71.83,(datum.rhi-datum.r12)*1.5055)*180/PI", "as": "ang"}],
 "mark": {"type": "point", "shape": "M-0.6,1.5L0,0.5L0.6,1.5", "filled": false, "size": 256, "strokeWidth": 1.8, "opacity": 1},
 "encoding": {"x": {"field": "thi", "type": "quantitative"}, "y": {"field": "rhi", "type": "quantitative"}, "angle": {"field": "ang", "type": "quantitative", "scale": null}, "color": {"field": "m12", "type": "nominal", "legend": null}}}
]
}
]}
],
"config": {
"font": "DejaVu Sans",
"view": {"stroke": "#222222", "strokeWidth": 1.5},
"axis": {"grid": false, "domain": false, "tickSize": 7, "tickWidth": 1.5, "tickColor": "#222222", "labelFontSize": 19.5, "labelColor": "#111111", "labelPadding": 5, "labelFont": "DejaVu Sans", "labelOverlap": false, "titleFont": "DejaVu Sans", "titleFontSize": 25.5, "titleFontWeight": "normal", "titleColor": "#111111", "titlePadding": 11, "titleLineHeight": 32},
"title": {"font": "DejaVu Sans", "fontSize": 25.5, "fontWeight": "normal", "color": "#111111", "offset": 28},
"legend": {"labelFont": "DejaVu Sans", "labelColor": "#111111"}
}
}
